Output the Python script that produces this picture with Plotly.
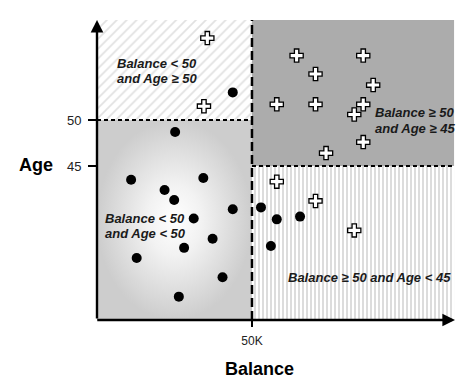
import plotly.graph_objects as go

# ---- data ----
dot_balance = [25.2, 11.0, 34.3, 21.8, 24.9, 43.8, 31.2, 37.3, 28.1, 12.8, 40.5, 26.4, 43.8, 52.9, 58.0, 65.5, 56.1]
dot_age = [48.7, 43.5, 43.7, 42.4, 41.3, 40.3, 39.3, 37.1, 36.1, 35.0, 32.9, 30.8, 53.0, 40.5, 39.2, 39.5, 36.3]

cross_balance = [35.6, 34.5, 64.4, 85.9, 70.5, 89.1, 58.0, 70.5, 85.9, 83.0, 85.9, 73.9, 58.0, 70.5, 83.0]
cross_age = [58.9, 51.5, 57.0, 57.0, 55.0, 53.8, 51.7, 51.7, 51.7, 50.6, 47.6, 46.4, 43.3, 41.2, 38.0]

balance_split = 50
age_split_left = 50
age_split_right = 45

x_range = [0, 115.5]
y_range = [28.26, 60.87]

x_tickvals = [50]
x_ticktext = ["50K"]
y_tickvals = [45, 50]
y_ticktext = ["45", "50"]

region_labels = ["Balance < 50", "and Age \u2265 50",
                 "Balance \u2265 50", "and Age \u2265 45",
                 "Balance < 50", "and Age < 50",
                 "Balance \u2265 50 and Age < 45"]
label_x = [5.8, 5.8, 89.0, 89.0, 1.9, 1.9, 60.9]
label_y = [56.09, 54.46, 50.79, 49.10, 39.27, 37.61, 32.86]

FONT = "Liberation Sans, Arial, Helvetica, sans-serif"

x0, x1 = x_range
y0, y1 = y_range
xr = x1 - 0.3

fig = go.Figure()

# top-left: diagonal hatch
fig.add_trace(go.Scatter(
    x=[x0, balance_split, balance_split, x0, x0],
    y=[age_split_left, age_split_left, y1, y1, age_split_left],
    mode="lines", line=dict(width=0), fill="toself", fillcolor="white",
    fillpattern=dict(shape="/", size=7, solidity=0.25, fgcolor="#c4c4c4", bgcolor="white"),
    hoverinfo="skip", showlegend=False))

# bottom-left: radial gradient
fig.add_trace(go.Scatter(
    x=[x0, balance_split, balance_split, x0, x0],
    y=[y0, y0, age_split_left, age_split_left, y0],
    mode="lines", line=dict(width=0), fill="toself",
    fillgradient=dict(type="radial", colorscale=[[0, "#ffffff"], [0.35, "#f2f2f2"], [1, "#cdcdcd"]]),
    hoverinfo="skip", showlegend=False))

# top-right: solid gray
fig.add_trace(go.Scatter(
    x=[balance_split, xr, xr, balance_split, balance_split],
    y=[age_split_right, age_split_right, y1, y1, age_split_right],
    mode="lines", line=dict(width=0), fill="toself", fillcolor="#acacac",
    hoverinfo="skip", showlegend=False))

# bottom-right: vertical stripes
fig.add_trace(go.Scatter(
    x=[balance_split, xr, xr, balance_split, balance_split],
    y=[y0, y0, age_split_right, age_split_right, y0],
    mode="lines", line=dict(width=0), fill="toself", fillcolor="white",
    fillpattern=dict(shape="|", size=4, solidity=0.5, fgcolor="#bababa", bgcolor="white"),
    hoverinfo="skip", showlegend=False))

# split lines
fig.add_trace(go.Scatter(x=[balance_split, balance_split], y=[y0, y1], mode="lines",
                         line=dict(color="black", width=2.5, dash="9px,4px"),
                         hoverinfo="skip", showlegend=False))
fig.add_trace(go.Scatter(x=[x0, balance_split], y=[age_split_left, age_split_left], mode="lines",
                         line=dict(color="black", width=2, dash="4px,3px"),
                         hoverinfo="skip", showlegend=False))
fig.add_trace(go.Scatter(x=[balance_split, xr], y=[age_split_right, age_split_right], mode="lines",
                         line=dict(color="black", width=2, dash="4px,3px"),
                         hoverinfo="skip", showlegend=False))

# points
fig.add_trace(go.Scatter(x=dot_balance, y=dot_age, mode="markers",
                         marker=dict(symbol="circle", size=10, color="black"),
                         showlegend=False))
fig.add_trace(go.Scatter(x=cross_balance, y=cross_age, mode="markers",
                         marker=dict(symbol="cross", size=11, color="white",
                                     line=dict(color="black", width=1.3)),
                         showlegend=False))

annotations = []
for t, lx, ly in zip(region_labels, label_x, label_y):
    annotations.append(dict(x=lx, y=ly, xref="x", yref="y", text=t, showarrow=False,
                            xanchor="left", yanchor="middle",
                            font=dict(family=FONT, size=13, color="#1a1a1a",
                                      weight="bold", style="italic")))

# axes with arrows
annotations.append(dict(x=x0, y=y1, ax=x0, ay=y0, xref="x", yref="y", axref="x", ayref="y",
                        text="", showarrow=True, arrowhead=2, arrowsize=1.05, arrowwidth=2.4,
                        arrowcolor="black", standoff=0, startstandoff=0))
annotations.append(dict(x=x1, y=y0, ax=x0 - 0.4, ay=y0, xref="x", yref="y", axref="x", ayref="y",
                        text="", showarrow=True, arrowhead=2, arrowsize=1.05, arrowwidth=2.4,
                        arrowcolor="black", standoff=0, startstandoff=0))

# axis titles
annotations.append(dict(x=-0.170, y=0.517, xref="paper", yref="paper", text="<b>Age</b>",
                        showarrow=False, xanchor="center", yanchor="middle",
                        font=dict(family=FONT, size=18, color="black")))
annotations.append(dict(x=0.454, y=-0.163, xref="paper", yref="paper", text="<b>Balance</b>",
                        showarrow=False, xanchor="center", yanchor="middle",
                        font=dict(family=FONT, size=18, color="black")))

# page body has an 8px default margin, so the figure is sized to fit inside the window
fig.update_layout(
    width=458, height=380, autosize=False,
    margin=dict(l=89, r=11, t=12, b=68),
    paper_bgcolor="white", plot_bgcolor="white",
    annotations=annotations,
    xaxis=dict(range=x_range, tickvals=x_tickvals, ticktext=x_ticktext,
               ticks="outside", ticklen=6, tickwidth=2, tickcolor="black",
               ticklabelstandoff=4,
               tickfont=dict(family=FONT, size=12, color="#222"),
               showgrid=False, zeroline=False, showline=False, fixedrange=True),
    yaxis=dict(range=y_range, tickvals=y_tickvals, ticktext=y_ticktext,
               ticks="outside", ticklen=8, tickwidth=1.5, tickcolor="black",
               ticklabelstandoff=4,
               tickfont=dict(family=FONT, size=13, color="#222"),
               showgrid=False, zeroline=False, showline=False, fixedrange=True),
)

fig.write_html("out.html")
